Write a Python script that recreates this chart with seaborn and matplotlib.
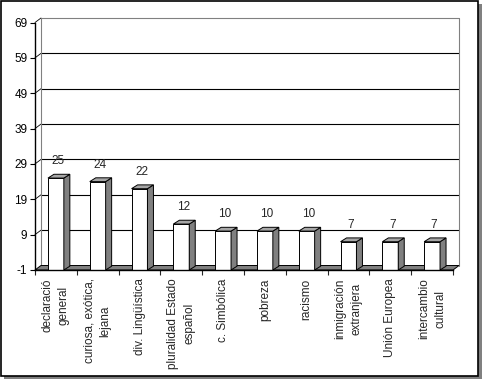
import numpy as np
import pandas as pd
import matplotlib
matplotlib.use('Agg')
import matplotlib.pyplot as plt
from matplotlib.patches import Polygon, Rectangle
import seaborn as sns

# datos del gráfico
categorias = ['declaració\ngeneral', 'curiosa, exótica,\nlejana', 'div. Lingüística',
              'pluralidad Estado\nespañol', 'c. Simbólica', 'pobreza', 'racismo',
              'inmigración\nextranjera', 'Unión Europea', 'intercambio\ncultural']
valores = [25, 24, 22, 12, 10, 10, 10, 7, 7, 7]
marcas_y = [-1, 9, 19, 29, 39, 49, 59, 69]

sns.set_style('white')
plt.rcParams['font.family'] = ['Liberation Sans', 'DejaVu Sans']

W, H = 482, 379
fig = plt.figure(figsize=(W / 100, H / 100), dpi=100)

# marco con sombra estilo Excel
fig.add_artist(Rectangle((4 / W, 0), 478 / W, 375 / H, transform=fig.transFigure,
                         facecolor='#808080', edgecolor='none', zorder=-10))
fig.add_artist(Rectangle((0.5 / W, 1 - 375.5 / H), 477 / W, 375 / H, transform=fig.transFigure,
                         facecolor='white', edgecolor='black', linewidth=1.2, zorder=-9))

ax = fig.add_axes([35 / W, 1 - 270 / H, 418 / W, 247.5 / H])
ax.patch.set_alpha(0)

df = pd.DataFrame({'cat': categorias, 'val': valores})
sns.barplot(data=df, x='cat', y='val', color='white', saturation=1, width=0.38,
            edgecolor='black', linewidth=0.7, ax=ax, zorder=5)

ax.set_xlim(-0.5, len(categorias) - 0.5)
ax.set_ylim(-1, 69)

# profundidad en unidades de datos (pixeles -> datos)
px_x = 418 / len(categorias)
px_y = 247.5 / 70
dx, dy = 6 / px_x, 4.5 / px_y
bdx, bdy = 6 / px_x, 3.8 / px_y

x_izq, x_der = -0.5, len(categorias) - 0.5

# pared del fondo
for v in marcas_y[1:]:
    col = '#808080' if v == marcas_y[-1] else 'black'
    ax.plot([x_izq + dx, x_der + dx], [v + dy, v + dy], color=col, lw=0.8,
            clip_on=False, zorder=1)
    ax.plot([x_izq, x_izq + dx], [v, v + dy], color='black', lw=0.6,
            clip_on=False, zorder=1)
for xb in [x_izq + dx, x_der + dx]:
    ax.plot([xb, xb], [-1 + dy, 69 + dy], color='#808080', lw=0.8, clip_on=False, zorder=1)

# suelo
ax.add_patch(Polygon([(x_izq, -1), (x_der, -1), (x_der + dx, -1 + dy), (x_izq + dx, -1 + dy)],
                     closed=True, facecolor='#808080', edgecolor='black', lw=0.7,
                     clip_on=False, zorder=2))

# barras en 3D
for p, v in zip(ax.patches[:len(valores)], valores):
    p.set_y(-1)
    p.set_height(v + 1)
    x0 = p.get_x()
    x1 = x0 + p.get_width()
    ax.add_patch(Polygon([(x1, -1), (x1, v), (x1 + bdx, v + bdy), (x1 + bdx, -1 + bdy)],
                         closed=True, facecolor='#808080', edgecolor='black', lw=0.7,
                         clip_on=False, zorder=5))
    ax.add_patch(Polygon([(x0, v), (x1, v), (x1 + bdx, v + bdy), (x0 + bdx, v + bdy)],
                         closed=True, facecolor='#a6a6a6', edgecolor='black', lw=0.7,
                         clip_on=False, zorder=5))
    ax.annotate(str(v), xy=((x0 + x1) / 2, v), xytext=(2, 11), textcoords='offset pixels',
                ha='center', va='bottom', fontsize=8.5, zorder=6)

# ejes
for s in ['top', 'right']:
    ax.spines[s].set_visible(False)
for s in ['left', 'bottom']:
    ax.spines[s].set_color('black')
    ax.spines[s].set_linewidth(1.0)
    ax.spines[s].set_zorder(7)

ax.set_yticks(marcas_y)
ax.set_yticklabels([str(m) for m in marcas_y], fontsize=8.5)
ax.tick_params(axis='y', direction='out', length=3.5, width=0.8, pad=2, colors='black', left=True)

ax.set_xticks(np.arange(-0.5, len(categorias)), labels=[''] * (len(categorias) + 1))
ax.set_xticks(np.arange(len(categorias)), labels=categorias, minor=True)
ax.tick_params(axis='x', which='major', direction='out', length=3.6, width=0.8, bottom=True)
ax.tick_params(axis='x', which='minor', length=0, pad=6, labelsize=8.5, labelrotation=90)
for t in ax.get_xticklabels(minor=True):
    t.set_linespacing(1.45)
ax.set_xlabel('')
ax.set_ylabel('')
ax.grid(False)

fig.savefig('out.png', dpi=100)
